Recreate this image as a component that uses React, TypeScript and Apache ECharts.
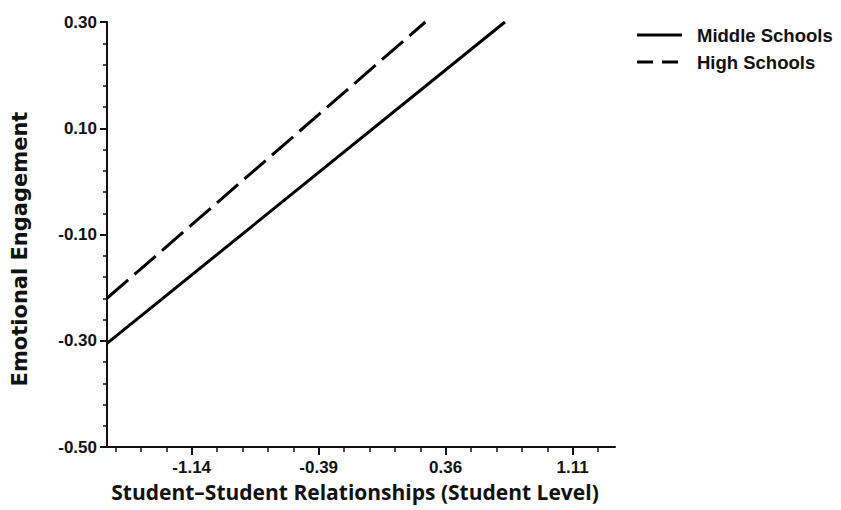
import React, { useEffect, useRef } from "react";
import * as echarts from "echarts";

// ---- data ----
const middleX = [-1.64, 0.71];
const middleY = [-0.305, 0.3];
const highX = [-1.64, 0.24];
const highY = [-0.22, 0.3];

const seriesNames = ["Middle Schools", "High Schools"];

// ---- axis ticks / labels ----
const xMajor = [-1.14, -0.39, 0.36, 1.11];
const xMinor = [-1.59, -1.44, -1.29, -0.99, -0.84, -0.69, -0.54, -0.24, -0.09, 0.06, 0.21, 0.51, 0.66, 0.81, 0.96, 1.26];
const yMajor = [-0.5, -0.3, -0.1, 0.1, 0.3];
const yMinor = [-0.46, -0.42, -0.38, -0.34, -0.26, -0.22, -0.18, -0.14, -0.06, -0.02, 0.02, 0.06, 0.14, 0.18, 0.22, 0.26];

const X_MIN = -1.64;
const X_MAX = 1.36;
const Y_MIN = -0.5;
const Y_MAX = 0.3;

const xTitle = "Student\u2013Student Relationships (Student Level)";
const yTitle = "Emotional Engagement";

const INK = "#111111";
const ARIAL = "'Liberation Sans', Arial, sans-serif";
const WIDE = "'DejaVu Sans', sans-serif";

export default function App() {
  const ref = useRef<HTMLDivElement>(null);

  useEffect(() => {
    if (!ref.current) return;
    const chart = echarts.init(ref.current, undefined, { renderer: "svg" });

    const toPairs = (xs: number[], ys: number[]) => xs.map((x, i) => [x, ys[i]]);

    const axisLabelStyle = {
      color: INK,
      fontFamily: ARIAL,
      fontWeight: "bold" as const,
      fontSize: 17,
    };

    chart.setOption({
      animation: false,
      backgroundColor: "#ffffff",
      grid: { left: 107, right: 226, top: 22, bottom: 63, containLabel: false },
      xAxis: [
        {
          type: "value",
          min: X_MIN,
          max: X_MAX,
          splitLine: { show: false },
          axisLine: { show: true, onZero: false, lineStyle: { color: INK, width: 2 } },
          axisTick: { show: true, length: 8, customValues: xMajor, lineStyle: { color: INK, width: 2 } },
          axisLabel: {
            ...axisLabelStyle,
            margin: 12,
            customValues: xMajor,
            formatter: (v: number) => v.toFixed(2),
          },
        },
        {
          type: "value",
          min: X_MIN,
          max: X_MAX,
          position: "bottom",
          splitLine: { show: false },
          axisLine: { show: false, onZero: false },
          axisTick: { show: true, length: 5, customValues: xMinor, lineStyle: { color: INK, width: 1.5 } },
          axisLabel: { show: false },
        },
      ],
      yAxis: [
        {
          type: "value",
          min: Y_MIN,
          max: Y_MAX,
          splitLine: { show: false },
          axisLine: { show: true, onZero: false, lineStyle: { color: INK, width: 2 } },
          axisTick: { show: true, length: 7, customValues: yMajor, lineStyle: { color: INK, width: 2 } },
          axisLabel: {
            ...axisLabelStyle,
            margin: 10,
            customValues: yMajor,
            formatter: (v: number) => v.toFixed(2),
          },
        },
        {
          type: "value",
          min: Y_MIN,
          max: Y_MAX,
          position: "left",
          splitLine: { show: false },
          axisLine: { show: false, onZero: false },
          axisTick: { show: true, length: 4, customValues: yMinor, lineStyle: { color: INK, width: 1.5 } },
          axisLabel: { show: false },
        },
      ],
      series: [
        {
          name: seriesNames[0],
          type: "line",
          xAxisIndex: 0,
          yAxisIndex: 0,
          data: toPairs(middleX, middleY),
          symbol: "none",
          lineStyle: { color: "#000000", width: 3, type: "solid" },
        },
        {
          name: seriesNames[1],
          type: "line",
          xAxisIndex: 0,
          yAxisIndex: 0,
          data: toPairs(highX, highY),
          symbol: "none",
          lineStyle: { color: "#000000", width: 3, type: [28, 8.4] },
        },
      ],
      graphic: [
        {
          type: "line",
          shape: { x1: 637, y1: 35, x2: 682, y2: 35 },
          style: { stroke: "#000000", lineWidth: 3 },
        },
        {
          type: "text",
          x: 697,
          y: 35,
          style: {
            text: seriesNames[0],
            fill: INK,
            font: `bold 18.5px ${ARIAL}`,
            textAlign: "left",
            textVerticalAlign: "middle",
          },
        },
        {
          type: "line",
          shape: { x1: 637, y1: 62, x2: 682, y2: 62 },
          style: { stroke: "#000000", lineWidth: 3, lineDash: [16, 9] },
        },
        {
          type: "text",
          x: 697,
          y: 62,
          style: {
            text: seriesNames[1],
            fill: INK,
            font: `bold 18.5px ${ARIAL}`,
            textAlign: "left",
            textVerticalAlign: "middle",
          },
        },
        {
          type: "text",
          x: 20,
          y: 249,
          rotation: Math.PI / 2,
          style: {
            text: yTitle,
            fill: INK,
            font: `bold 21px ${WIDE}`,
            textAlign: "center",
            textVerticalAlign: "middle",
          },
        },
        {
          type: "text",
          x: 355,
          y: 492,
          style: {
            text: xTitle,
            fill: INK,
            font: "bold 21px 'Open Sans', sans-serif",
            textAlign: "center",
            textVerticalAlign: "middle",
          },
        },
      ],
    });

    return () => chart.dispose();
  }, []);

  return <div ref={ref} style={{ width: 841, height: 510, position: "absolute", left: 0, top: 0 }} />;
}
